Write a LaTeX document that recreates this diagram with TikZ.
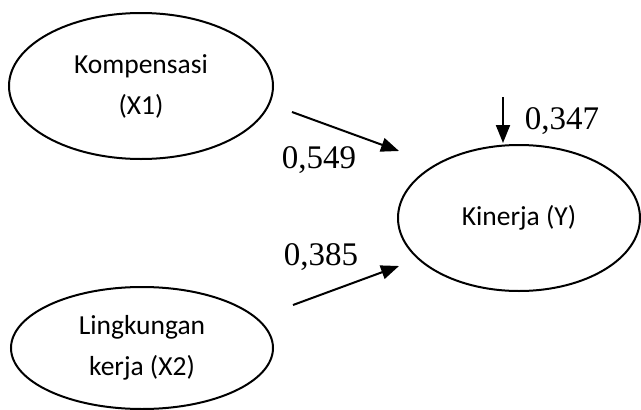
\documentclass[tikz,border=0pt]{standalone}
\usepackage{fontspec}
\setmainfont{Carlito}
\newfontfamily\numfont{Liberation Serif}
\usetikzlibrary{shapes.geometric,arrows.meta}
\tikzset{
  latent/.style={draw=black, line width=2pt, ellipse, inner sep=0pt,
    align=center, font=\fontsize{27.5}{41}\selectfont},
  path arrow/.style={draw=black, line width=2pt, -{Triangle[length=18pt,width=14pt]}},
  coef/.style={font=\numfont\fontsize{33}{36}\selectfont, inner sep=0pt}
}
\begin{document}
\begin{tikzpicture}[x=1pt,y=-1pt]
\useasboundingbox (0,0) rectangle (641,410);
\node[latent, minimum width=264pt, minimum height=146pt] (x1) at (141,86) {Kompensasi\\(X1)};
\node[latent, minimum width=262pt, minimum height=122pt] (x2) at (142,348) {Lingkungan\\kerja (X2)};
\node[latent, minimum width=242pt, minimum height=146pt] (y) at (519,218) {Kinerja (Y)};
\coordinate (a1s) at (292,112);
\coordinate (a1e) at (399,151);
\coordinate (a2s) at (293,305);
\coordinate (a2e) at (399,266);
\coordinate (a3s) at (503,97);
\coordinate (a3e) at (503,143);
\draw[path arrow] (a1s) -- (a1e);
\draw[path arrow] (a2s) -- (a2e);
\draw[path arrow] (a3s) -- (a3e);
\node[coef] (c1) at (319,160) {0,549};
\node[coef] (c2) at (321,257) {0,385};
\node[coef] (c3) at (562,121) {0,347};
\end{tikzpicture}
\end{document}
